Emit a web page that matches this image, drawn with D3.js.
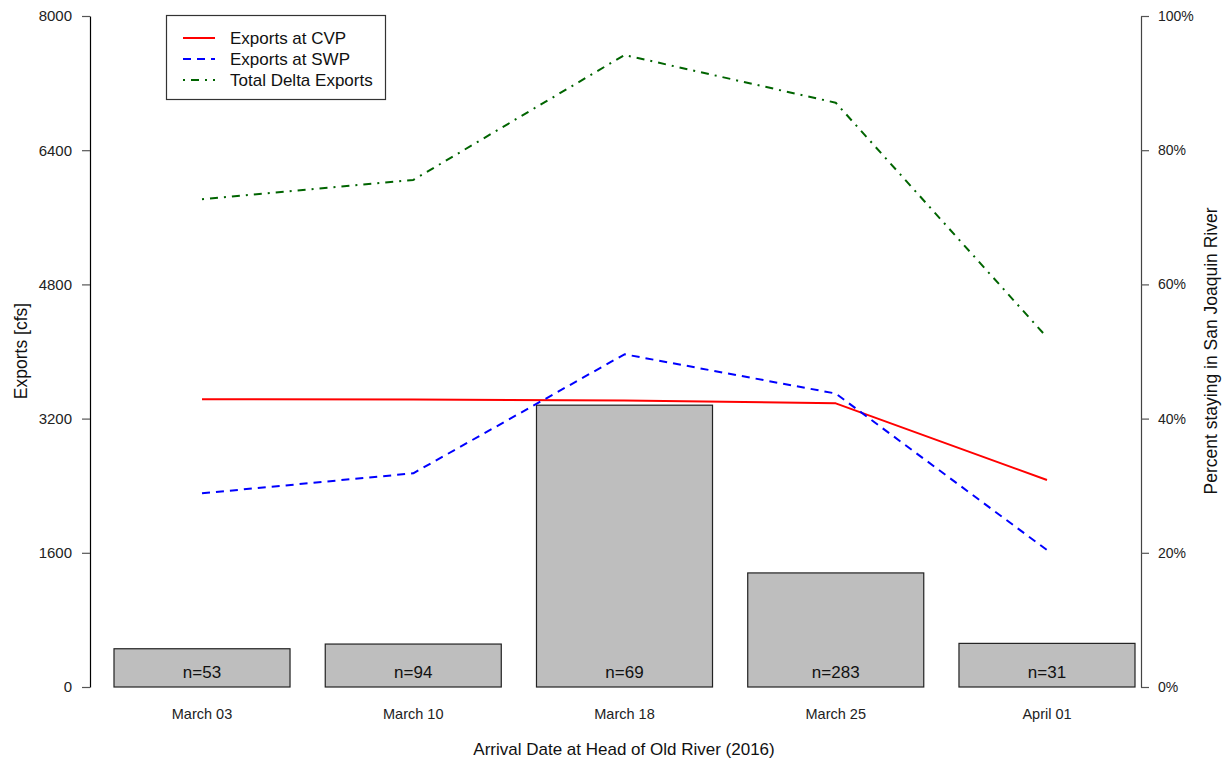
<!DOCTYPE html>
<html>
<head>
<meta charset="utf-8">
<script src="https://cdn.jsdelivr.net/npm/d3@7"></script>
<style>
  html, body { margin: 0; padding: 0; background: #fff; }
  svg { display: block; font-family: "Liberation Sans", Arial, sans-serif; }
</style>
</head>
<body>
<svg id="chart" width="1227" height="761"></svg>
<script>
// Arrival weeks at Head of Old River
const dates = ["March 03", "March 10", "March 18", "March 25", "April 01"];
// Fish counts per week (bar labels)
const counts = [53, 94, 69, 283, 31];
// Percent of fish staying in the San Joaquin River (right axis)
const pctStaying = [5.7, 6.4, 42.0, 17.0, 6.5];
// Export flows [cfs] (left axis)
const cvpExports = [3430, 3428, 3416, 3382, 2468];
const swpExports = [2309, 2548, 3967, 3499, 1633];
const totalExports = [5815, 6045, 7535, 6966, 4169];
// Axis ticks
const leftTicks = [0, 1600, 3200, 4800, 6400, 8000];
const rightTicks = [0, 20, 40, 60, 80, 100];

const svg = d3.select("#chart");
const plot = { left: 90, right: 1141, top: 16, bottom: 687 };

const x = d3.scaleBand()
  .domain(dates)
  .range([114, 1135])
  .paddingInner(0.1667)
  .paddingOuter(0);

const yL = d3.scaleLinear().domain([0, 8000]).range([plot.bottom, plot.top]);
const yR = d3.scaleLinear().domain([0, 100]).range([plot.bottom, plot.top]);

// Bars: percent staying
svg.append("g").selectAll("rect")
  .data(dates)
  .join("rect")
  .attr("x", d => x(d))
  .attr("width", x.bandwidth())
  .attr("y", (d, i) => yR(pctStaying[i]))
  .attr("height", (d, i) => yR(0) - yR(pctStaying[i]))
  .attr("fill", "#bebebe")
  .attr("stroke", "#222")
  .attr("stroke-width", 1.2);

// Count labels inside bars
svg.append("g").selectAll("text")
  .data(dates)
  .join("text")
  .attr("x", d => x(d) + x.bandwidth() / 2)
  .attr("y", 678)
  .attr("text-anchor", "middle")
  .attr("font-size", 17)
  .attr("fill", "#111")
  .text((d, i) => "n=" + counts[i]);

// Export lines
const cx = d => x(d) + x.bandwidth() / 2;
const lineGen = vals => d3.line()
  .x((d, i) => cx(dates[i]))
  .y(d => yL(d))(vals);

const series = [
  { vals: cvpExports, color: "#ff0000", dash: null, name: "Exports at CVP" },
  { vals: swpExports, color: "#0000ff", dash: "8,6", name: "Exports at SWP" },
  { vals: totalExports, color: "#006400", dash: "2,6,8,6", name: "Total Delta Exports" }
];

series.forEach(s => {
  svg.append("path")
    .attr("d", lineGen(s.vals))
    .attr("fill", "none")
    .attr("stroke", s.color)
    .attr("stroke-width", 2)
    .attr("stroke-dasharray", s.dash)
    .attr("stroke-linejoin", "round");
});

// Left axis
const gL = svg.append("g")
  .attr("transform", `translate(${plot.left},0)`)
  .call(d3.axisLeft(yL).tickValues(leftTicks).tickSize(8).tickSizeOuter(0).tickPadding(10).tickFormat(d3.format("d")));
gL.select(".domain").attr("stroke", "#000").attr("stroke-width", 1.2);
gL.selectAll(".tick line").attr("stroke", "#555").attr("stroke-width", 1.2);
gL.selectAll(".tick text").attr("font-size", 15).attr("fill", "#222").attr("font-family", "Liberation Sans, Arial, sans-serif");

// Right axis
const gR = svg.append("g")
  .attr("transform", `translate(${plot.right},0)`)
  .call(d3.axisRight(yR).tickValues(rightTicks).tickSize(8).tickSizeOuter(0).tickPadding(9).tickFormat(d => d + "%"));
gR.select(".domain").attr("stroke", "#444").attr("stroke-width", 1.2);
gR.selectAll(".tick line").attr("stroke", "#555").attr("stroke-width", 1.2);
gR.selectAll(".tick text").attr("font-size", 14).attr("fill", "#222").attr("font-family", "Liberation Sans, Arial, sans-serif");

// Category labels under bars
svg.append("g").selectAll("text")
  .data(dates)
  .join("text")
  .attr("x", d => cx(d))
  .attr("y", 719)
  .attr("text-anchor", "middle")
  .attr("font-size", 14.5)
  .attr("fill", "#222")
  .text(d => d);

// Axis titles
svg.append("text")
  .attr("x", 624).attr("y", 755)
  .attr("text-anchor", "middle")
  .attr("font-size", 17)
  .attr("fill", "#111")
  .text("Arrival Date at Head of Old River (2016)");

svg.append("text")
  .attr("transform", "translate(27,351) rotate(-90)")
  .attr("text-anchor", "middle")
  .attr("font-size", 17.5)
  .attr("fill", "#111")
  .text("Exports [cfs]");

svg.append("text")
  .attr("transform", "translate(1217,351) rotate(-90)")
  .attr("text-anchor", "middle")
  .attr("font-size", 17.5)
  .attr("fill", "#111")
  .text("Percent staying in San Joaquin River");

// Legend
const legend = svg.append("g");
legend.append("rect")
  .attr("x", 166.5).attr("y", 15.5)
  .attr("width", 219).attr("height", 84)
  .attr("fill", "#fff")
  .attr("stroke", "#333")
  .attr("stroke-width", 1.2);
series.forEach((s, i) => {
  const yy = 38 + i * 21;
  legend.append("line")
    .attr("x1", 183).attr("x2", 215)
    .attr("y1", yy).attr("y2", yy)
    .attr("stroke", s.color)
    .attr("stroke-width", 2)
    .attr("stroke-dasharray", s.dash);
  legend.append("text")
    .attr("x", 230).attr("y", yy + 6)
    .attr("font-size", 17)
    .attr("fill", "#111")
    .text(s.name);
});
</script>
</body>
</html>
